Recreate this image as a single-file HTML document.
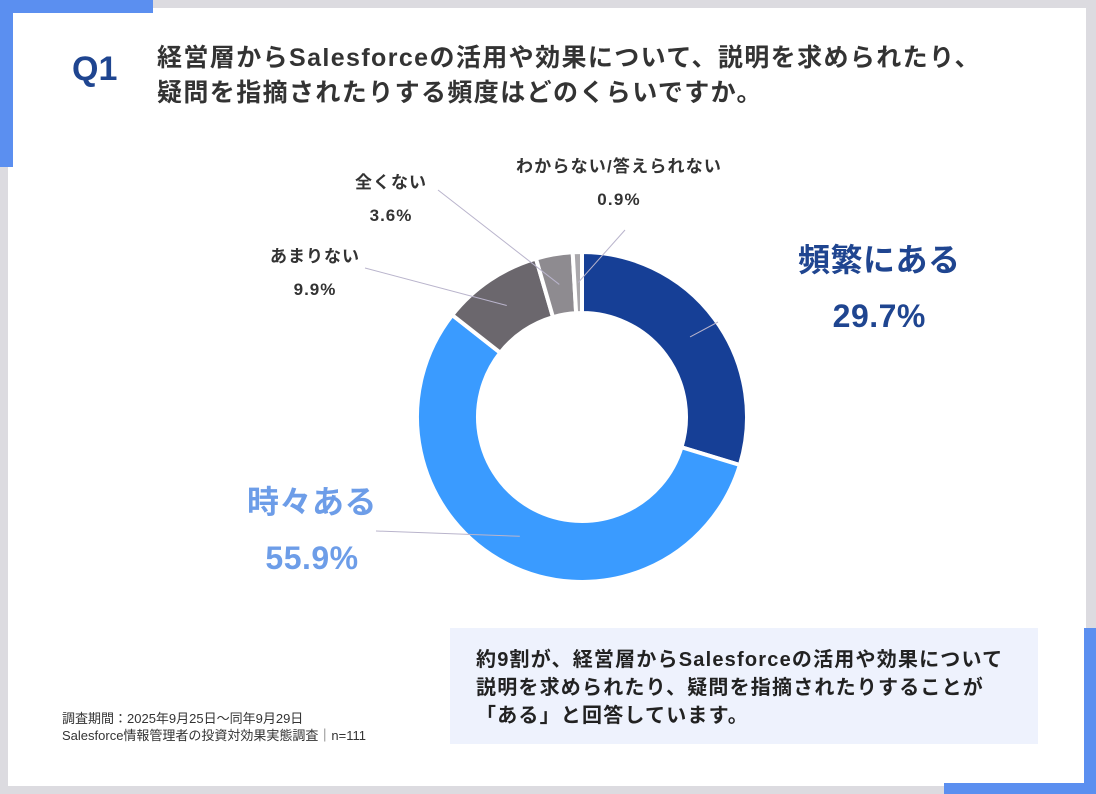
<!DOCTYPE html>
<html><head><meta charset="utf-8"><style>
body{margin:0;width:1096px;height:794px;background:#dcdbe0;position:relative;overflow:hidden;font-family:"Liberation Sans","Noto Sans CJK JP",sans-serif;}
.abs{position:absolute}
</style></head><body>
<div class="abs" style="left:8px;top:8px;width:1078px;height:778px;background:#fff"></div>
<div class="abs" style="left:0;top:0;width:153px;height:13px;background:#5b8ff0"></div>
<div class="abs" style="left:0;top:0;width:13px;height:167px;background:#5b8ff0"></div>
<div class="abs" style="left:1084px;top:628px;width:12px;height:166px;background:#5b8ff0"></div>
<div class="abs" style="left:944px;top:783px;width:152px;height:11px;background:#5b8ff0"></div>
<div class="abs" style="left:72px;top:50px;font-size:34px;font-weight:bold;color:#1f4590">Q1</div>
<div class="abs" style="left:157px;top:41px;font-size:25px;font-weight:bold;color:#333;line-height:35px;letter-spacing:1.4px;white-space:nowrap">経営層からSalesforceの活用や効果について、説明を求められたり、<br>疑問を指摘されたりする頻度はどのくらいですか。</div>
<svg class="abs" style="left:0;top:0" width="1096" height="794">
<g id="slices"></g><g id="leaders"></g>
</svg>
<div class="abs" style="left:798px;top:232px;font-size:32px;font-weight:bold;color:#1f4590;text-align:center;line-height:56px;letter-spacing:0.5px">頻繁にある<br>29.7%</div>
<div class="abs" style="left:247px;top:474px;font-size:32px;font-weight:bold;color:#6d9de8;text-align:center;line-height:56px;letter-spacing:0.5px">時々ある<br>55.9%</div>
<div class="abs" style="left:270px;top:240px;font-size:17px;font-weight:bold;color:#333;text-align:center;line-height:33px;letter-spacing:1px">あまりない<br>9.9%</div>
<div class="abs" style="left:355px;top:166px;font-size:17px;font-weight:bold;color:#333;text-align:center;line-height:33px;letter-spacing:1px">全くない<br>3.6%</div>
<div class="abs" style="left:516px;top:150px;font-size:17px;font-weight:bold;color:#333;text-align:center;line-height:33px;letter-spacing:1.2px;white-space:nowrap">わからない/答えられない<br>0.9%</div>
<div class="abs" style="left:450px;top:628px;width:588px;height:116px;background:#eef2fd"></div>
<div class="abs" style="left:476px;top:646px;font-size:20px;font-weight:bold;color:#222;line-height:28px;letter-spacing:1.2px;white-space:nowrap">約9割が、経営層からSalesforceの活用や効果について<br>説明を求められたり、疑問を指摘されたりすることが<br>「ある」と回答しています。</div>
<div class="abs" style="left:62px;top:710px;font-size:13px;color:#333;line-height:17px;white-space:nowrap">調査期間：2025年9月25日～同年9月29日<br>Salesforce情報管理者の投資対効果実態調査｜n=111</div>
<script>
const categories=["頻繁にある","時々ある","あまりない","全くない","わからない/答えられない"];
const values=[29.7,55.9,9.9,3.6,0.9];
const colors=["#163f96","#3a9bff","#6b676d","#8e8b90","#aaa8ac"];
const cx=582,cy=417,R=165,r=104;
const ns="http://www.w3.org/2000/svg";
const total=values.reduce((a,b)=>a+b,0);
function pt(a,rad){return [cx+rad*Math.sin(a),cy-rad*Math.cos(a)];}
let a0=0;const g=document.getElementById('slices');
const mids=[];
values.forEach((v,i)=>{
 const a1=a0+v/total*2*Math.PI;
 const [x1,y1]=pt(a0,R),[x2,y2]=pt(a1,R),[x3,y3]=pt(a1,r),[x4,y4]=pt(a0,r);
 const lg=(a1-a0)>Math.PI?1:0;
 const p=document.createElementNS(ns,'path');
 p.setAttribute('d',`M${x1},${y1}A${R},${R} 0 ${lg} 1 ${x2},${y2}L${x3},${y3}A${r},${r} 0 ${lg} 0 ${x4},${y4}Z`);
 p.setAttribute('fill',colors[i]);p.setAttribute('stroke','#fff');p.setAttribute('stroke-width','4');
 
 
 g.appendChild(p);mids.push((a0+a1)/2);a0=a1;
});
const ends=[[718,322],[376,531],[365,268],[438,190],[625,230]];
const lg2=document.getElementById('leaders');
mids.forEach((m,i)=>{
 const [x,y]=pt(m,(R+r)/2);
 const l=document.createElementNS(ns,'line');
 l.setAttribute('x1',x);l.setAttribute('y1',y);l.setAttribute('x2',ends[i][0]);l.setAttribute('y2',ends[i][1]);
 l.setAttribute('stroke','#b9b4cc');l.setAttribute('stroke-width','1');
 
 
 lg2.appendChild(l);
});
</script>
</body></html>
